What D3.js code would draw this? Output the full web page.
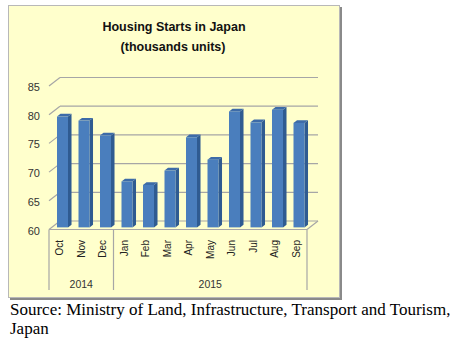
<!DOCTYPE html>
<meta charset="utf-8">
<head>
<style>
body { margin: 0; background: #fff; }
svg text { font-family: "Liberation Sans", Arial, sans-serif; }
.src { font-family: "Liberation Serif", "Times New Roman", serif; font-size: 17px; fill: #000; }
</style>
</head>
<script src="https://d3js.org/d3.v7.min.js"></script>
<div id="chart"></div>
<script>

// monthly housing starts, thousands of units
var months = ["Oct","Nov","Dec","Jan","Feb","Mar","Apr","May","Jun","Jul","Aug","Sep"];
var starts = [79.3, 78.6, 76.0, 68.0, 67.4, 69.9, 75.7, 71.8, 80.2, 78.3, 80.5, 78.2];
var years = ["2014","2015"];
var yearOf = ["2014","2014","2014","2015","2015","2015","2015","2015","2015","2015","2015","2015"];
var yTicks = [60, 65, 70, 75, 80, 85];

var W = 456, H = 344;
var svg = d3.select("#chart").append("svg")
    .attr("width", W).attr("height", H);

// chart frame with a little drop shadow
svg.append("rect").attr("x", 10).attr("y", 7).attr("width", 332).attr("height", 293)
  .attr("fill", "#8a8a8a");
svg.append("rect").attr("x", 8.5).attr("y", 5.5).attr("width", 331).attr("height", 292)
  .attr("fill", "#ffffcc").attr("stroke", "#b8b8b8");

svg.append("text").attr("x", 174).attr("y", 31).attr("text-anchor", "middle")
  .style("font-size", "12.5px").style("font-weight", "bold").attr("fill", "#111")
  .text("Housing Starts in Japan");
svg.append("text").attr("x", 173).attr("y", 51).attr("text-anchor", "middle")
  .style("font-size", "12.5px").style("font-weight", "bold").attr("fill", "#111")
  .text("(thousands units)");

// front plane scales, plus a depth offset for the pseudo-3D walls
var x = d3.scaleBand().domain(months).range([49, 307]).padding(0);
var y = d3.scaleLinear().domain([60, 85]).range([229.5, 86]);
var depth = {dx: 11, dy: -8.5};
function dx(d) { return depth.dx * d; }
function dy(d) { return depth.dy * d; }

var grid = svg.append("g").attr("stroke", "#a6a6a6").attr("stroke-width", 1.2).attr("fill", "none");

// back-wall gridlines and the short diagonals joining them to the axis
grid.selectAll("line.back").data(yTicks).enter().append("line")
  .attr("class", "back")
  .attr("x1", x.range()[0] + dx(1)).attr("x2", x.range()[1] + dx(1))
  .attr("y1", function(d) { return y(d) + dy(1); })
  .attr("y2", function(d) { return y(d) + dy(1); });
grid.selectAll("line.diag").data(yTicks).enter().append("line")
  .attr("class", "diag")
  .attr("x1", x.range()[0]).attr("x2", x.range()[0] + dx(1))
  .attr("y1", function(d) { return y(d); })
  .attr("y2", function(d) { return y(d) + dy(1); });
// floor right edge
grid.append("line")
  .attr("x1", x.range()[1]).attr("x2", x.range()[1] + dx(1))
  .attr("y1", y(60)).attr("y2", y(60) + dy(1));

// y axis labels
var yAxis = svg.append("g").attr("transform", "translate(40,1)")
  .call(d3.axisLeft(y).tickValues(yTicks).tickSize(0).tickPadding(0));
yAxis.select(".domain").remove();
yAxis.selectAll("text").style("font-size", "11px").style("font-family", "Liberation Sans, Arial, sans-serif")
  .attr("fill", "#333");

// bars: front face, side, top
var d0 = 0.25, d1 = 0.57, bw = 11;
var bars = svg.append("g");
months.forEach(function(m, i) {
  var v = starts[i];
  var x0 = x(m) + (x.bandwidth() - bw) / 2 + dx(d0);
  var yb = y(60) + dy(d0), yt = y(v) + dy(d0);
  var ox = dx(d1 - d0), oy = dy(d1 - d0);
  bars.append("path")
    .attr("d", "M" + (x0 + bw) + "," + yb + "L" + (x0 + bw + ox) + "," + (yb + oy) +
               "L" + (x0 + bw + ox) + "," + (yt + oy) + "L" + (x0 + bw) + "," + yt + "Z")
    .attr("fill", "#2f5b91");
  bars.append("path")
    .attr("d", "M" + x0 + "," + yt + "L" + (x0 + ox) + "," + (yt + oy) +
               "L" + (x0 + bw + ox) + "," + (yt + oy) + "L" + (x0 + bw) + "," + yt + "Z")
    .attr("fill", "#3d6ba8");
  bars.append("rect")
    .attr("x", x0).attr("y", yt).attr("width", bw).attr("height", yb - yt)
    .attr("fill", "#4a7ebd");
});

// category axis: floor front edge and group separators
var cat = svg.append("g").attr("stroke", "#a6a6a6").attr("stroke-width", 1.2);
cat.append("line").attr("x1", x.range()[0]).attr("x2", x.range()[1])
  .attr("y1", y(60)).attr("y2", y(60));
var seps = [x("Oct"), x("Jan"), x.range()[1]];
cat.selectAll("line.sep").data(seps).enter().append("line")
  .attr("class", "sep")
  .attr("x1", function(d) { return d; }).attr("x2", function(d) { return d; })
  .attr("y1", y(60)).attr("y2", 290);

svg.selectAll("text.month").data(months).enter().append("text")
  .attr("class", "month")
  .attr("transform", function(d) { return "translate(" + (x(d) + x.bandwidth() / 2 + 3.5) + ",240) rotate(-90)"; })
  .attr("text-anchor", "end")
  .style("font-size", "10px").attr("fill", "#222")
  .text(function(d) { return d; });

svg.selectAll("text.year").data(years).enter().append("text")
  .attr("class", "year")
  .attr("x", function(yr) {
    var idx = yearOf.map(function(v, i) { return v === yr ? i : -1; }).filter(function(i) { return i >= 0; });
    return (x(months[idx[0]]) + x(months[idx[idx.length - 1]]) + x.bandwidth()) / 2;
  })
  .attr("y", 288).attr("text-anchor", "middle")
  .style("font-size", "10.5px").attr("fill", "#333")
  .text(function(d) { return d; });

svg.append("text").attr("class", "src").attr("x", 10).attr("y", 315)
  .text("Source: Ministry of Land, Infrastructure, Transport and Tourism,");
svg.append("text").attr("class", "src").attr("x", 10).attr("y", 334)
  .text("Japan");

</script>
